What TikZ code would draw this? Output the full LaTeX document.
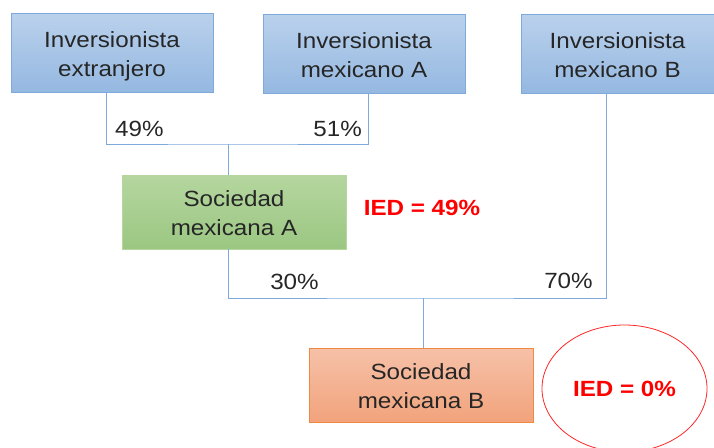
\documentclass[tikz,border=0pt]{standalone}
\usepackage{fontspec}
\setmainfont{Liberation Sans}[FakeStretch=1.1]
\usetikzlibrary{calc,shapes.geometric}
\definecolor{invTop}{HTML}{BAD1EC}
\definecolor{invBot}{HTML}{95B8E1}
\definecolor{invLine}{HTML}{7FA9DC}
\definecolor{socATop}{HTML}{B5D69F}
\definecolor{socABot}{HTML}{9BC782}
\definecolor{socBTop}{HTML}{F6C1A8}
\definecolor{socBBot}{HTML}{F2A37C}
\definecolor{socBLine}{HTML}{EE8A45}
\definecolor{iedRed}{HTML}{FF0000}
\definecolor{txt}{HTML}{262626}

\begin{document}
\begin{tikzpicture}[x=1pt, y=-1pt,
	box/.style={rectangle, inner sep=0pt, align=center, text=txt, text height=47pt, text depth=0pt,
		font=\fontsize{22}{29}\selectfont},
	inv/.style={box, draw=invLine, line width=0.8pt, top color=invTop, bottom color=invBot,
		minimum width=202pt, minimum height=79pt},
	soc/.style={box, minimum width=224pt, minimum height=74pt},
	link/.style={draw=invLine, line width=1pt},
	pct/.style={inner sep=0pt, text=txt, font=\fontsize{22}{29}\selectfont},
	ied/.style={inner sep=0pt, text=iedRed, font=\fontsize{22}{29}\selectfont\bfseries}]
			%%%%% START %%%%%
			
			\useasboundingbox (0, 0) rectangle (714, 447);
			\clip (0, 0) rectangle (714, 447);
			
			\node[inv] (inv1) at (112, 52.5) {Inversionista\\extranjero};
			\node[inv] (inv2) at (364, 53.5) {Inversionista\\mexicano A};
			\node[inv, minimum width=193pt] (inv3) at (617.5, 53.5) {Inversionista\\mexicano B};
			
			\node[soc, draw=socATop, top color=socATop, bottom color=socABot] (socA) at (234, 212) {Sociedad\\mexicana A};
			\node[soc, draw=socBLine, line width=0.8pt, top color=socBTop, bottom color=socBBot] (socB) at (421, 385) {Sociedad\\mexicana B};
			
			\node[ied] (iedA) at (422, 208) {IED = 49\%};
			\node[ellipse, draw=iedRed!85, line width=0.8pt, fill=white, minimum width=165pt, minimum height=127pt,
				ied] (iedB) at (624.5, 388.5) {IED = 0\%};
			
			\coordinate (j1) at (228, 144);
			\coordinate (j2) at (423, 298);
			
			\draw[link] ([xshift=-6pt]inv1.south) |- (j1) -| ([xshift=4pt]inv2.south);
			\draw[link] (j1) -- (j1 |- socA.north);
			\draw[link] (j1 |- socA.south) |- (j2) -| ([xshift=-11pt]inv3.south);
			\draw[link] (j2) -- (j2 |- socB.north);
			
			\node[pct, anchor=west] (p49) at (115, 129) {49\%};
			\node[pct, anchor=east] (p51) at (362, 129) {51\%};
			\node[pct] (p30) at (294.5, 282) {30\%};
			\node[pct] (p70) at (568.5, 281) {70\%};
			
			%%%%% END %%%%%
\end{tikzpicture}
\end{document}
